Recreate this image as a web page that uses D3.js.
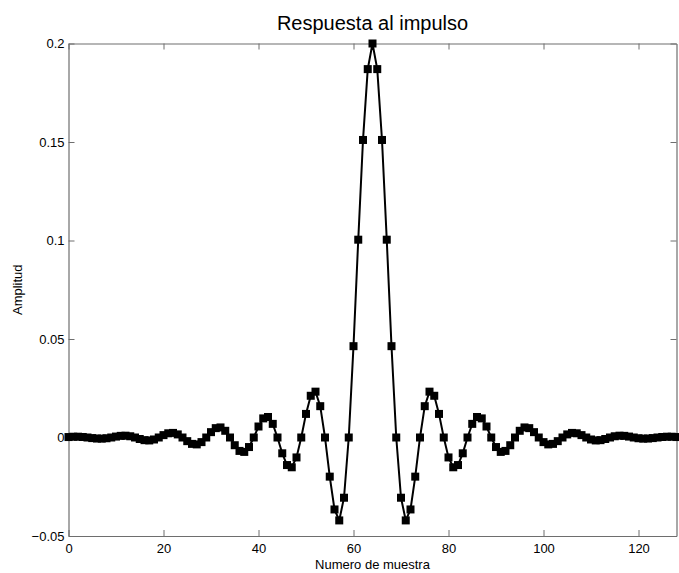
<!DOCTYPE html>
<html>
<head>
<meta charset="utf-8">
<script src="https://cdn.jsdelivr.net/npm/d3@7"></script>
<style>
  body { margin: 0; background: #fff; }
  svg { display: block; font-family: "Liberation Sans", Arial, Helvetica, sans-serif; }
</style>
</head>
<body>
<svg id="chart"></svg>
<script>
// sample index 0..128
const samples = d3.range(0, 129);

// impulse response (symmetric around sample 64)
const amplitude = [
  0.00023, 0.00039, 0.00040, 0.00026, 0, -0.00030, -0.00052, -0.00057, -0.00038, 0,
  0.00047, 0.00083, 0.00092, 0.00063, 0, -0.00076, -0.00135, -0.00149, -0.00101, 0,
  0.00121, 0.00214, 0.00233, 0.00157, 0, -0.00185, -0.00324, -0.00350, -0.00234, 0,
  0.00272, 0.00475, 0.00511, 0.00340, 0, -0.00392, -0.00681, -0.00731, -0.00485, 0,
  0.00558, 0.00970, 0.01041, 0.00692, 0, -0.00802, -0.01399, -0.01512, -0.01012, 0,
  0.01197, 0.02118, 0.02327, 0.01590, 0, -0.01987, -0.03652, -0.04209, -0.03057, 0,
  0.04636, 0.10041, 0.15103, 0.18700,
  0.2,
  0.18700, 0.15103, 0.10041, 0.04636,
  0, -0.03057, -0.04209, -0.03652, -0.01987, 0, 0.01590, 0.02327, 0.02118, 0.01197,
  0, -0.01012, -0.01512, -0.01399, -0.00802, 0, 0.00692, 0.01041, 0.00970, 0.00558,
  0, -0.00485, -0.00731, -0.00681, -0.00392, 0, 0.00340, 0.00511, 0.00475, 0.00272,
  0, -0.00234, -0.00350, -0.00324, -0.00185, 0, 0.00157, 0.00233, 0.00214, 0.00121,
  0, -0.00101, -0.00149, -0.00135, -0.00076, 0, 0.00063, 0.00092, 0.00083, 0.00047,
  0, -0.00038, -0.00057, -0.00052, -0.00030, 0, 0.00026, 0.00040, 0.00039, 0.00023
];

const xTicks = [0, 20, 40, 60, 80, 100, 120];
const yTicks = [-0.05, 0, 0.05, 0.1, 0.15, 0.2];
const yTickLabels = ["\u22120.05", "0", "0.05", "0.1", "0.15", "0.2"];

const titleText = "Respuesta al impulso";
const xLabel = "Numero de muestra";
const yLabel = "Amplitud";

function main() {
    const data = samples.map((s, i) => ({ n: s, v: amplitude[i] }));
    drawChart(data);
}

function drawChart(data) {
    const width = 679, height = 573;
    const left = 68.5, right = 676.5, top = 43.5, bottom = 536;

    let svg = d3.select("#chart")
        .attr("width", width)
        .attr("height", height);

    let x = d3.scaleLinear().domain([0, 128]).range([left, right]);
    let y = d3.scaleLinear().domain([-0.05, 0.2]).range([bottom, top]);

    const axisColor = "#6e6e6e";
    const tickLen = 6;

    // bottom axis (inward ticks)
    let gx = svg.append("g")
        .attr("transform", `translate(0, ${bottom})`)
        .call(d3.axisBottom(x).tickValues(xTicks).tickSizeInner(-tickLen).tickSizeOuter(0).tickPadding(8)
            .tickFormat(d3.format("d")));
    // top axis, ticks only
    let gxt = svg.append("g")
        .attr("transform", `translate(0, ${top})`)
        .call(d3.axisTop(x).tickValues(xTicks).tickSizeInner(-tickLen).tickSizeOuter(0).tickFormat(""));
    // left axis
    let gy = svg.append("g")
        .attr("transform", `translate(${left}, 0)`)
        .call(d3.axisLeft(y).tickValues(yTicks).tickSizeInner(-tickLen).tickSizeOuter(0).tickPadding(4)
            .tickFormat((d, i) => yTickLabels[i]));
    // right axis, ticks only
    let gyr = svg.append("g")
        .attr("transform", `translate(${right}, 0)`)
        .call(d3.axisRight(y).tickValues(yTicks).tickSizeInner(-tickLen).tickSizeOuter(0).tickFormat(""));

    [gx, gxt, gy, gyr].forEach(g => {
        g.selectAll("path.domain").attr("stroke", axisColor).attr("stroke-width", 1.2);
        g.selectAll(".tick line").attr("stroke", axisColor);
        g.selectAll("text")
            .attr("fill", "#000")
            .style("font-family", "'Liberation Sans', Arial, sans-serif")
            .style("font-size", "13px");
    });

    // line
    let line = d3.line()
        .x(d => x(d.n))
        .y(d => y(d.v));

    svg.append("path")
        .datum(data)
        .attr("d", line)
        .attr("fill", "none")
        .attr("stroke", "#000")
        .attr("stroke-width", 2);

    // square markers
    const sq = 8;
    svg.selectAll("rect.marker")
        .data(data)
        .join("rect")
        .attr("class", "marker")
        .attr("x", d => x(d.n) - sq / 2)
        .attr("y", d => y(d.v) - sq / 2)
        .attr("width", sq)
        .attr("height", sq)
        .attr("fill", "#000");

    // title
    svg.append("text")
        .text(titleText)
        .attr("x", (left + right) / 2)
        .attr("y", 30)
        .attr("font-size", "20px")
        .style("text-anchor", "middle");

    // x axis title
    svg.append("text")
        .text(xLabel)
        .attr("x", (left + right) / 2)
        .attr("y", 569)
        .attr("font-size", "13px")
        .style("text-anchor", "middle");

    // y axis title
    svg.append("text")
        .text(yLabel)
        .attr("font-size", "13px")
        .attr("transform", `translate(22, ${(top + bottom) / 2}) rotate(-90)`)
        .style("text-anchor", "middle");
}

main();
</script>
</body>
</html>
